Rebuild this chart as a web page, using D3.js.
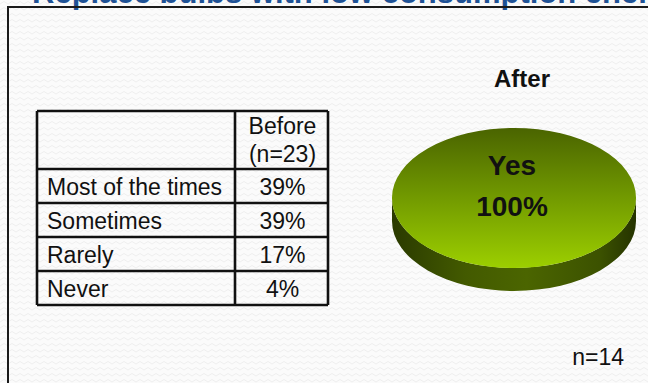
<!DOCTYPE html>
<html>
<head>
<meta charset="utf-8">
<script src="https://cdn.jsdelivr.net/npm/d3@7"></script>
<style>
  html, body { margin: 0; padding: 0; background: #fbfbfb; }
  svg { display: block; }
  text { font-family: "Liberation Sans", Arial, sans-serif; }
</style>
</head>
<body>
<svg id="chart" width="648" height="383"></svg>
<script>
// ---- data ----
const titleText = "Replace bulbs with low consumption energy";
const tableHeader = ["Before", "(n=23)"];
const categories = ["Most of the times", "Sometimes", "Rarely", "Never"];
const beforeValues = [39, 39, 17, 4];
const afterTitle = "After";
const afterCategories = ["Yes"];
const afterValues = [100];
const afterN = "n=14";

const W = 648, H = 383;
const svg = d3.select("#chart");
const defs = svg.append("defs");

// background pattern (faint zigzag)
const pat = defs.append("pattern").attr("id", "bg").attr("patternUnits", "userSpaceOnUse")
  .attr("width", 8).attr("height", 6);
pat.append("rect").attr("width", 8).attr("height", 6).attr("fill", "#fbfbfb");
pat.append("path").attr("d", "M0,4 L4,1.5 L8,4").attr("fill", "none")
  .attr("stroke", "#efefef").attr("stroke-width", 1);
svg.append("rect").attr("width", W).attr("height", H).attr("fill", "url(#bg)");

// title (cut off at top)
svg.append("text").attr("x", 32).attr("y", 3)
  .attr("font-size", 31).attr("font-weight", "bold").attr("fill", "#1f5295")
  .text(titleText);

// frame
svg.append("rect").attr("x", 8).attr("y", 7).attr("width", 700).attr("height", 420)
  .attr("fill", "none").attr("stroke", "#1a1a1a").attr("stroke-width", 2);

// ---- table ----
const tX0 = 37, tX1 = 235, tX2 = 328, tTop = 111, hdrBottom = 169, tBottom = 305;
const y = d3.scaleBand().domain(categories).range([hdrBottom, tBottom]);
const tbl = svg.append("g");
const lineStyle = s => s.attr("stroke", "#111").attr("stroke-width", 2.6);

tbl.append("text").attr("x", (tX1 + tX2) / 2 + 1).attr("y", 134).attr("text-anchor", "middle")
  .attr("font-size", 23).attr("fill", "#111").text(tableHeader[0]);
tbl.append("text").attr("x", (tX1 + tX2) / 2 + 1).attr("y", 162).attr("text-anchor", "middle")
  .attr("font-size", 23).attr("fill", "#111").text(tableHeader[1]);

const rows = tbl.selectAll("g.row").data(categories).join("g").attr("class", "row");
rows.append("text").attr("x", tX0 + 10).attr("y", d => y(d) + y.bandwidth() / 2 + 8.5)
  .attr("font-size", 23).attr("fill", "#111").text(d => d);
rows.append("text").attr("x", (tX1 + tX2) / 2 + 1).attr("y", d => y(d) + y.bandwidth() / 2 + 8.5)
  .attr("text-anchor", "middle").attr("font-size", 23).attr("fill", "#111")
  .text((d, i) => beforeValues[i] + "%");

// horizontal lines
const hLines = [tTop, hdrBottom].concat(categories.map(c => y(c) + y.bandwidth()));
tbl.selectAll("line.h").data(hLines).join("line").attr("class", "h")
  .attr("x1", tX0).attr("x2", tX2).attr("y1", d => d).attr("y2", d => d).call(lineStyle);
tbl.selectAll("line.v").data([tX0, tX1, tX2]).join("line").attr("class", "v")
  .attr("x1", d => d).attr("x2", d => d).attr("y1", tTop).attr("y2", tBottom).call(lineStyle);

// ---- 3D pie ----
const cx = 514, cy = 198, rx = 122, ry = 70, depth = 23;

const gTop = defs.append("linearGradient").attr("id", "topGrad")
  .attr("x1", 0).attr("y1", 0).attr("x2", 0).attr("y2", 1);
gTop.append("stop").attr("offset", "0%").attr("stop-color", "#4a6400");
gTop.append("stop").attr("offset", "45%").attr("stop-color", "#6e9500");
gTop.append("stop").attr("offset", "100%").attr("stop-color", "#9ccf00");

const gSide = defs.append("linearGradient").attr("id", "sideGrad")
  .attr("x1", 0).attr("y1", 0).attr("x2", 1).attr("y2", 0);
gSide.append("stop").attr("offset", "0%").attr("stop-color", "#2a3a00");
gSide.append("stop").attr("offset", "30%").attr("stop-color", "#435a00");
gSide.append("stop").attr("offset", "55%").attr("stop-color", "#4b6500");
gSide.append("stop").attr("offset", "85%").attr("stop-color", "#3c5200");
gSide.append("stop").attr("offset", "100%").attr("stop-color", "#253300");

const pie = d3.pie().sort(null).value(d => d);
const arcs = pie(afterValues);
const arc = d3.arc().innerRadius(0).outerRadius(rx);

// side (front half band)
svg.append("path")
  .attr("d", `M${cx - rx},${cy} A${rx},${ry} 0 0 0 ${cx + rx},${cy} L${cx + rx},${cy + depth} A${rx},${ry} 0 0 1 ${cx - rx},${cy + depth} Z`)
  .attr("fill", "url(#sideGrad)");

// top face
svg.append("g").attr("transform", `translate(${cx},${cy}) scale(1,${ry / rx})`)
  .selectAll("path").data(arcs).join("path")
  .attr("d", arc).attr("fill", "url(#topGrad)");

// labels
svg.append("text").attr("x", cx - 2).attr("y", 175).attr("text-anchor", "middle")
  .attr("font-size", 28).attr("font-weight", "bold").attr("fill", "#111")
  .text(afterCategories[0]);
svg.append("text").attr("x", cx - 2).attr("y", 216).attr("text-anchor", "middle")
  .attr("font-size", 28).attr("font-weight", "bold").attr("fill", "#111")
  .text(afterValues[0] + "%");

svg.append("text").attr("x", 522).attr("y", 87).attr("text-anchor", "middle")
  .attr("font-size", 24).attr("font-weight", "bold").attr("fill", "#111").text(afterTitle);

svg.append("text").attr("x", 624).attr("y", 365).attr("text-anchor", "end")
  .attr("font-size", 23).attr("fill", "#111").text(afterN);
</script>
</body>
</html>
